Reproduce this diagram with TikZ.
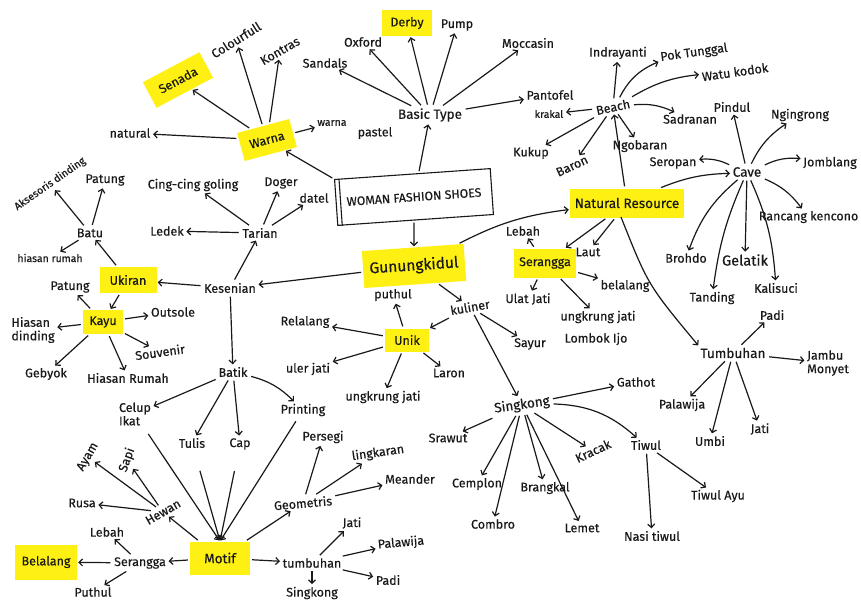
\documentclass[tikz,border=0pt]{standalone}
\usepackage{fontspec}
\setmainfont{Fira Sans}
\newfontfamily\hand{Fira Sans}[FakeBold=0.35]
\usetikzlibrary{arrows.meta}
\definecolor{ink}{RGB}{25,25,25}
\definecolor{hly}{RGB}{255,240,20}
\begin{document}
\begin{tikzpicture}[x=1pt,y=-1pt,
 lbl/.style={font=\hand\fontsize{12.5}{13.5}\selectfont, text=ink, inner sep=1.5pt, align=center},
 big/.style={font=\hand\fontsize{14.5}{15.5}\selectfont},
 mid/.style={font=\hand\fontsize{13.5}{14.5}\selectfont},
 small/.style={font=\hand\fontsize{10.5}{11.5}\selectfont},
 hlbox/.style={lbl, fill=hly, inner sep=4pt},
 arr/.style={draw=ink, line width=1.2pt, -{Straight Barb[length=3.5pt,width=7pt]}, shorten >=1pt, shorten <=2pt},
]
\fill[white] (0,0) rectangle (861,603);
\useasboundingbox (0,0) rectangle (861,603);

% ---------- centre ----------
\node[lbl, draw=ink, line width=1.1pt, minimum width=156pt, minimum height=46pt, rotate=4, font=\hand\fontsize{12.3}{13}\selectfont] (woman) at (414,197) {WOMAN FASHION SHOES};
\draw[ink, line width=1.1pt] ([xshift=5pt]woman.north west) -- ([xshift=5pt]woman.south west);

% ---------- basic type ----------
\node[lbl, mid] (basic) at (430,115) {Basic Type};
\node[lbl] (sandals) at (325,63) {Sandals};
\node[lbl] (oxford) at (363,42) {Oxford};
\node[hlbox, minimum width=50pt, minimum height=26pt] (derby) at (407,23) {Derby};
\node[lbl] (pump) at (457,25) {Pump};
\node[lbl] (moccasin) at (528,43) {Moccasin};
\node[lbl] (pantofel) at (550,95) {Pantofel};

% ---------- beach ----------
\node[lbl, rotate=12] (beach) at (613,107) {Beach};
\node[lbl, small] (krakal) at (549,114) {krakal};
\node[lbl] (indrayanti) at (618,53) {Indrayanti};
\node[lbl, rotate=8] (poktunggal) at (694,53) {Pok Tunggal};
\node[lbl, rotate=8] (watukodok) at (735,72) {Watu kodok};
\node[lbl] (sadranan) at (690,119) {Sadranan};
\node[lbl] (ngobaran) at (640,146) {Ngobaran};
\node[lbl] (kukup) at (531,153) {Kukup};
\node[lbl, rotate=25] (baron) at (572,166) {Baron};

% ---------- cave ----------
\node[lbl, mid] (cave) at (747,172) {Cave};
\node[lbl] (pindul) at (732,107) {Pindul};
\node[lbl] (ngingrong) at (800,115) {Ngingrong};
\node[lbl] (seropan) at (673,163) {Seropan};
\node[lbl] (jomblang) at (830,163) {Jomblang};
\node[lbl, anchor=east] (rancang) at (860,217) {Rancang kencono};
\node[lbl] (brohdo) at (686,258) {Brohdo};
\node[lbl, big] (gelatik) at (745,260) {Gelatik};
\node[lbl] (tanding) at (712,298) {Tanding};
\node[lbl] (kalisuci) at (776,288) {Kalisuci};

% ---------- natural resource ----------
\node[hlbox, minimum width=114pt, minimum height=29pt, mid] (nr) at (627,203) {Natural Resource};
\coordinate (nrbottom) at (621,217);
\node[lbl] (laut) at (588,252) {Laut};
\node[hlbox, minimum width=62pt, minimum height=29pt] (serangga1) at (545,263) {Serangga};
\node[lbl] (lebah1) at (523,231) {Lebah};
\node[lbl] (belalang1) at (625,286) {belalang};
\node[lbl] (ulatjati) at (528,299) {Ulat Jati};
\node[lbl] (ungkrung1) at (598,317) {ungkrung jati};
\node[lbl] (lombok) at (596,339) {Lombok Ijo};
\node[lbl, mid] (tumbuhan1) at (733,353) {Tumbuhan};
\node[lbl] (padi1) at (772,315) {Padi};
\node[lbl, align=left] (jambu) at (828,363) {Jambu\\Monyet};
\node[lbl] (palawija1) at (682,405) {Palawija};
\node[lbl] (umbi) at (710,441) {Umbi};
\node[lbl] (jati1) at (760,429) {Jati};

% ---------- gunungkidul / kuliner ----------
\node[hlbox, minimum width=102pt, minimum height=37pt, font=\hand\fontsize{15.5}{16.5}\selectfont, rotate=4] (gunung) at (414,266) {Gunungkidul};
\node[lbl] (puthul1) at (393,295) {puthul};
\node[lbl, rotate=10] (kuliner) at (470,307) {kuliner};
\node[hlbox, minimum width=44pt, minimum height=23pt] (unik) at (407,340) {Unik};
\node[lbl] (relalang) at (305,322) {Relalang};
\node[lbl] (ulerjati) at (308,369) {uler jati};
\node[lbl] (laron) at (449,373) {Laron};
\node[lbl] (ungkrung2) at (383,397) {ungkrung jati};
\node[lbl] (sayur) at (530,344) {Sayur};

% ---------- singkong ----------
\node[lbl, mid, rotate=8] (singkong1) at (522,405) {Singkong};
\node[lbl] (gathot) at (636,382) {Gathot};
\node[lbl] (srawut) at (448,438) {Srawut};
\node[lbl] (cemplon) at (477,484) {Cemplon};
\node[lbl] (brangkal) at (545,488) {Brangkal};
\node[lbl] (combro) at (493,524) {Combro};
\node[lbl, rotate=25] (kracak) at (593,451) {Kracak};
\node[lbl] (lemet) at (582,528) {Lemet};
\node[lbl] (tiwul) at (646,445) {Tiwul};
\node[lbl] (tiwulayu) at (718,496) {Tiwul Ayu};
\node[lbl] (nasitiwul) at (652,536) {Nasi tiwul};

% ---------- warna ----------
\node[hlbox, minimum width=54pt, minimum height=29pt, rotate=15] (warna) at (267,140) {Warna};
\node[hlbox, minimum width=64pt, minimum height=29pt, rotate=28] (senada) at (178,80) {Senada};
\node[lbl, rotate=32] (colourfull) at (236,40) {Colourfull};
\node[lbl, rotate=30] (kontras) at (280,51) {Kontras};
\node[lbl] (natural) at (130,133) {natural};
\node[lbl, small] (pastelw) at (332,123) {warna};
\node[lbl] (pastel) at (375,133) {pastel};

% ---------- kesenian ----------
\node[lbl] (kesenian) at (230,288) {Kesenian};
\node[lbl] (tarian) at (260,233) {Tarian};
\node[lbl] (ledek) at (167,231) {Ledek};
\node[lbl] (cing) at (193,185) {Cing-cing goling};
\node[lbl] (doger) at (281,183) {Doger};
\node[lbl] (datel) at (314,198) {datel};
\node[hlbox, minimum width=57pt, minimum height=26pt] (ukiran) at (128,280) {Ukiran};
\node[lbl] (batu) at (90,233) {Batu};
\node[lbl, small, rotate=35] (aksesoris) at (50,184) {Aksesoris dinding};
\node[lbl] (patung1) at (105,180) {Patung};
\node[lbl, small] (hiasanrumah1) at (50,258) {hiasan rumah};
\node[hlbox, minimum width=40pt, minimum height=24pt] (kayu) at (103,322) {Kayu};
\node[lbl] (patung2) at (70,287) {Patung};
\node[lbl] (outsole) at (173,312) {Outsole};
\node[lbl, align=left] (hiasandinding) at (33,330) {Hiasan\\dinding};
\node[lbl, rotate=8] (souvenir) at (160,352) {Souvenir};
\node[lbl] (gebyok) at (46,374) {Gebyok};
\node[lbl] (hiasanrumah2) at (128,378) {Hiasan Rumah};
\node[lbl] (batik) at (233,372) {Batik};
\node[lbl, align=left] (celup) at (135,414) {Celup\\Ikat};
\node[lbl] (tulis) at (192,443) {Tulis};
\node[lbl] (cap) at (240,444) {Cap};
\node[lbl] (printing) at (303,410) {Printing};

% ---------- motif ----------
\node[hlbox, minimum width=60pt, minimum height=33pt, mid] (motif) at (220,558) {Motif};
\node[lbl, rotate=30] (hewan) at (163,512) {Hewan};
\node[lbl, rotate=60] (ayam) at (88,457) {Ayam};
\node[lbl, rotate=70] (sapi) at (127,460) {Sapi};
\node[lbl] (rusa) at (82,503) {Rusa};
\node[lbl] (serangga2) at (140,563) {Serangga};
\node[lbl] (lebah2) at (107,532) {Lebah};
\node[hlbox, minimum width=62pt, minimum height=35pt] (belalang2) at (46,562) {Belalang};
\node[lbl] (puthul2) at (93,592) {Puthul};
\node[lbl, rotate=5] (geometris) at (303,503) {Geometris};
\node[lbl] (persegi) at (323,437) {Persegi};
\node[lbl, rotate=8] (lingkaran) at (378,453) {lingkaran};
\node[lbl] (meander) at (410,479) {Meander};
\node[lbl] (tumbuhan2) at (312,563) {tumbuhan};
\node[lbl] (jati2) at (352,523) {Jati};
\node[lbl, rotate=5] (palawija2) at (401,543) {Palawija};
\node[lbl] (padi2) at (388,580) {Padi};
\node[lbl] (singkong2) at (312,593) {Singkong};

% ---------- connectors ----------
\draw[arr] (woman) -- (basic);
\draw[arr] (woman) -- (gunung);
\draw[arr] (woman.north west) -- (warna);
\foreach \t in {sandals,oxford,derby,pump,moccasin,pantofel} \draw[arr] (basic) -- (\t);
\foreach \t in {krakal,indrayanti,ngobaran,kukup,baron} \draw[arr] (beach) -- (\t);
\draw[arr] (beach) to[bend left=20] (poktunggal);
\draw[arr] (beach) to[bend left=12] (watukodok);
\draw[arr] (beach) to[bend left=15] (sadranan);
\draw[arr] (nr) -- (beach);
\draw[arr] (nr) to[bend left=10] (cave);
\draw[arr] (cave) -- (pindul);
\draw[arr] (cave) to[bend left=15] (ngingrong);
\draw[arr] (cave) to[bend right=15] (seropan);
\draw[arr] (cave) to[bend left=15] (jomblang);
\draw[arr] (cave) to[bend left=15] (rancang);
\draw[arr] (cave) to[bend right=15] (brohdo);
\draw[arr] (cave) -- (gelatik);
\draw[arr] (cave) to[bend right=8] (tanding);
\draw[arr] (cave) to[bend left=10] (kalisuci);
\draw[arr] (gunung) to[bend left=10] (nr);
\draw[arr] (nr) -- (laut);
\draw[arr] (nr) -- (serangga1);
\draw[arr, shorten <=0pt] (nrbottom) .. controls (648,285) .. (tumbuhan1.north west);
\foreach \t in {lebah1,belalang1,ulatjati,ungkrung1} \draw[arr] (serangga1) -- (\t);
\foreach \t in {padi1,jambu,palawija1,umbi,jati1} \draw[arr] (tumbuhan1) -- (\t);
\draw[arr] (gunung) -- (kuliner);
\draw[arr] (gunung) -- (kesenian);
\foreach \t in {unik,sayur,singkong1} \draw[arr] (kuliner) -- (\t);
\foreach \t in {gathot,srawut,cemplon,brangkal,combro,kracak,lemet} \draw[arr] (singkong1) -- (\t);
\draw[arr] (singkong1) to[bend left=20] (tiwul);
\foreach \t in {tiwulayu,nasitiwul} \draw[arr] (tiwul) -- (\t);
\foreach \t in {puthul1,relalang,ulerjati,laron,ungkrung2} \draw[arr] (unik) -- (\t);
\foreach \t in {senada,colourfull,kontras,natural,pastelw} \draw[arr] (warna) -- (\t);
\foreach \t in {tarian,ukiran,batik} \draw[arr] (kesenian) -- (\t);
\foreach \t in {ledek,cing,doger,datel} \draw[arr] (tarian) -- (\t);
\foreach \t in {batu,kayu} \draw[arr] (ukiran) -- (\t);
\foreach \t in {aksesoris,patung1,hiasanrumah1} \draw[arr] (batu) -- (\t);
\foreach \t in {patung2,outsole,hiasandinding,souvenir,gebyok,hiasanrumah2} \draw[arr] (kayu) -- (\t);
\foreach \t in {celup,tulis,cap} \draw[arr] (batik) -- (\t);
\draw[arr] (batik) to[bend left=15] (printing);
\draw[arr, shorten <=8pt] (celup) -- (motif.north);
\draw[arr, shorten <=22pt] (tulis) -- (motif.north);
\draw[arr, shorten <=20pt] (cap) -- (motif.north);
\draw[arr, shorten <=4pt] (printing) -- (motif.north);
\foreach \t in {hewan,serangga2,geometris,tumbuhan2} \draw[arr] (motif) -- (\t);
\foreach \t in {ayam,sapi,rusa} \draw[arr] (hewan) -- (\t);
\foreach \t in {lebah2,belalang2,puthul2} \draw[arr] (serangga2) -- (\t);
\foreach \t in {persegi,lingkaran,meander} \draw[arr] (geometris) -- (\t);
\foreach \t in {jati2,palawija2,padi2,singkong2} \draw[arr] (tumbuhan2) -- (\t);
\end{tikzpicture}
\end{document}
